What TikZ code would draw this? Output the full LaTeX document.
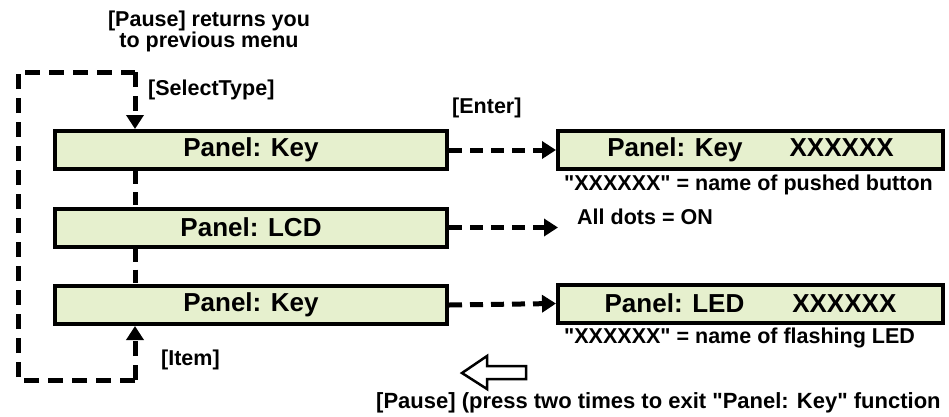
\documentclass[tikz,border=0pt]{standalone}
\usepackage{fontspec}
\newfontfamily\arialfont{Liberation Sans}
\usetikzlibrary{arrows.meta}

\definecolor{panelgreen}{RGB}{230,240,206}

\tikzset{
  panel/.style={draw, line width=4pt, fill=panelgreen, inner sep=0pt,
    minimum height=38pt, font=\arialfont\fontsize{26}{30}\selectfont\bfseries},
  lbl/.style={inner sep=0pt, font=\arialfont\fontsize{21.5}{18}\selectfont\bfseries},
  link/.style={line width=5pt, dash pattern=on 13pt off 8pt},
  loopline/.style={line width=5pt, dash pattern=on 15pt off 9pt}
}

\begin{document}
\begin{tikzpicture}[>={Triangle[length=14pt,width=17pt]}, x=1pt, y=-1pt]
  \useasboundingbox (0,0) rectangle (949,416);
  % Menu panels on the left.
  \node[panel, minimum width=392pt] (keyA) at (251,150) {Panel: Key};
  \node[panel, minimum width=392pt] (lcd) at (251,227.5) {Panel: LCD};
  \node[panel, minimum width=392pt] (keyB) at (251,305) {Panel: Key};
  % Result panels on the right.
  \node[panel, minimum width=385pt] (keyres) at (750.5,150)
    {Panel: Key\hspace{47pt}XXXXXX};
  \node[panel, minimum width=385pt] (ledres) at (750.5,303.5)
    {Panel: LED\hspace{48pt}XXXXXX};
  % Helper points for the loop.
  \coordinate (spine) at (135,0);
  \coordinate (lt) at (18,72);
  \coordinate (lb) at (18,380);
  \coordinate (lcdend) at (558,227.5);
  % Dashed spine between the menu panels.
  \draw[link] (keyA.south -| spine) -- (lcd.north -| spine);
  \draw[link] (lcd.south -| spine) -- (keyB.north -| spine);
  % The return loop on the left.
  \draw[loopline] (lb -| spine) -- (lb) -- (lt) -- (lt -| spine);
  \draw[loopline, ->] (lt -| spine) -- (keyA.north -| spine);
  \draw[loopline, ->] (lb -| spine) -- (keyB.south -| spine);
  % Dashed arrows to the results.
  \draw[link, ->] (keyA.east) -- (keyres.west);
  \draw[link, ->] (lcd.east) -- (lcdend);
  \draw[link, ->] (keyB.east) -- (ledres.west);
  % Labels.
  \node[lbl, align=center] (pausetop) at (209,31)
    {[Pause] returns you\\to previous menu};
  \node[lbl, anchor=west] (selecttype) at (148,90) {[SelectType]};
  \node[lbl, anchor=west] (enter) at (452,108) {[Enter]};
  \node[lbl, anchor=west] (item) at (161,360) {[Item]};
  \node[lbl, anchor=west] (dots) at (577,217) {All dots = ON};
  \node[lbl, anchor=west] (pushed) at (564,185)
    {"XXXXXX" = name of pushed button};
  \node[lbl, anchor=west] (flashing) at (564,338)
    {"XXXXXX" = name of flashing LED};
  \node[lbl, anchor=west, font=\arialfont\fontsize{22}{18}\selectfont\bfseries]
    (pausebot) at (376,403)
    {[Pause] (press two times to exit "Panel: Key" function};
  % Hollow back arrow.
  \draw[line width=2.5pt, fill=white] (462,373) -- (487,356) -- (487,366)
    -- (526,366) -- (526,379) -- (487,379) -- (487,389) -- cycle;
\end{tikzpicture}
\end{document}
